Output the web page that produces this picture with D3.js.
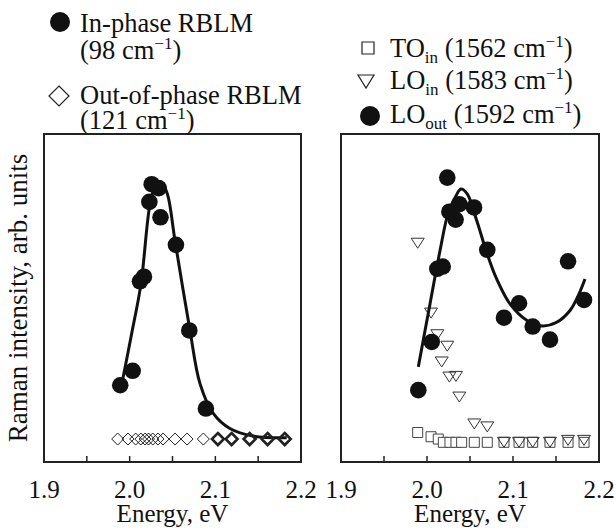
<!DOCTYPE html>
<html>
<head>
<meta charset="utf-8">
<script src="https://cdn.jsdelivr.net/npm/d3@7"></script>
<style>
  body { margin: 0; background: #fff; }
  text { font-family: "Liberation Serif", "Times New Roman", serif; fill: #111; }
</style>
</head>
<body>
<svg id="chart" width="616" height="528"></svg>
<script>
// ---- data (energy in eV, intensity in arb. units 0..100) ----
// left panel: in-phase RBLM (98 cm-1)
const inPhaseE = [1.989, 2.0035, 2.012, 2.0167, 2.023, 2.0257, 2.0339, 2.036, 2.054, 2.0696, 2.089];
const inPhaseI = [23.4, 27.8, 55.1, 56.5, 79.3, 84.7, 83.5, 74.6, 66.2, 40.1, 16.3];
// left panel fit
const inFitE = [1.9918, 2.0023, 2.0132, 2.0237, 2.0296, 2.0374, 2.044, 2.0529, 2.0704, 2.0821, 2.0976, 2.117, 2.1443, 2.1833];
const inFitI = [25.1, 39.1, 54.3, 78.6, 83.7, 84.9, 81.7, 67.5, 40.1, 23.9, 14.8, 10.2, 7.9, 7.4];
// left panel: out-of-phase RBLM (121 cm-1)
const outPhaseE = [1.986, 1.998, 2.007, 2.013, 2.018, 2.022, 2.027, 2.033, 2.039, 2.053, 2.067, 2.086, 2.103, 2.119, 2.14, 2.161, 2.181];
const outPhaseI = [7, 7, 7, 7, 7, 7, 7, 7, 7, 7, 7, 7, 7, 7, 7, 7, 7];

// right panel: LO_out (1592 cm-1)
const loOutE = [1.9899, 2.0055, 2.012, 2.0183, 2.0236, 2.026, 2.0333, 2.0376, 2.0547, 2.0701, 2.0895, 2.107, 2.1229, 2.143, 2.164, 2.1826];
const loOutI = [21.9, 36.6, 58.9, 59.6, 86.7, 76.3, 73.9, 78.6, 77.6, 64.7, 44.0, 48.4, 41.3, 37.3, 61.2, 49.4];
// right panel fit
const loFitE = [1.9899, 2.0035, 2.0151, 2.0248, 2.0326, 2.0395, 2.0469, 2.0578, 2.0694, 2.081, 2.0965, 2.1159, 2.1334, 2.1508, 2.1663, 2.176, 2.1837];
const loFitI = [29.0, 48.2, 64.4, 76.1, 80.6, 83.2, 81.7, 73.6, 63.9, 55.8, 48.2, 43.2, 41.5, 42.6, 46.2, 50.8, 55.8];
// right panel: LO_in (1583 cm-1)
const loInE = [1.9892, 2.0047, 2.012, 2.0171, 2.0236, 2.026, 2.0337, 2.0376, 2.055, 2.0701, 2.0895, 2.107, 2.1229, 2.143, 2.164, 2.1826];
const loInI = [66.7, 45.4, 38.8, 30.5, 35.3, 25.9, 26.1, 19.8, 11.6, 10.7, 6.0, 6.0, 6.0, 6.0, 6.6, 6.6];
// right panel: TO_in (1562 cm-1)
const toInE = [1.9892, 2.0047, 2.0131, 2.019, 2.0267, 2.0337, 2.0403, 2.055, 2.0701, 2.0895, 2.107, 2.1229, 2.143, 2.164, 2.1826];
const toInI = [9.0, 7.7, 7.0, 6.0, 6.0, 6.0, 6.0, 6.0, 6.0, 6.0, 6.0, 6.0, 6.0, 6.0, 6.0];

const tickMarks = [1.95, 2.0, 2.05, 2.1, 2.15];
const tickLabels = [1.9, 2.0, 2.1, 2.2];

// ---- layout ----
const svg = d3.select("#chart");
const yTop = 134, yBot = 462;
const y = d3.scaleLinear().domain([0, 100]).range([yBot, yTop]);
const xL = d3.scaleLinear().domain([1.9, 2.2]).range([44, 301]);
const xR = d3.scaleLinear().domain([1.9, 2.2]).range([341, 599]);
const fs = 25;

const zip = (a, b) => a.map((d, i) => [d, b[i]]);

function frame(x) {
  const g = svg.append("g");
  const [x0, x1] = x.range();
  g.append("rect")
    .attr("x", x0).attr("y", yTop)
    .attr("width", x1 - x0).attr("height", yBot - yTop)
    .attr("fill", "none").attr("stroke", "#222").attr("stroke-width", 2);
  g.selectAll("line.tk").data(tickMarks).enter().append("line")
    .attr("x1", d => x(d)).attr("x2", d => x(d))
    .attr("y1", yBot).attr("y2", yBot - 6)
    .attr("stroke", "#222").attr("stroke-width", 1.5);
  g.selectAll("text.tl").data(tickLabels).enter().append("text")
    .attr("x", d => x(d)).attr("y", 498)
    .attr("text-anchor", "middle").attr("font-size", fs)
    .text(d => d.toFixed(1));
  g.append("text")
    .attr("x", (x0 + x1) / 2).attr("y", 522)
    .attr("text-anchor", "middle").attr("font-size", fs)
    .text("Energy, eV");
}
frame(xL);
frame(xR);

// y label
svg.append("text")
  .attr("transform", `translate(27,${(yTop + yBot) / 2}) rotate(-90)`)
  .attr("text-anchor", "middle").attr("font-size", 27)
  .text("Raman intensity, arb. units");

const line = d3.line().curve(d3.curveCatmullRom.alpha(0.5));

// marker shapes
const diamond = "M0,-6L6,0L0,6L-6,0Z";
const tri = "M-6.5,-5L6.5,-5L0,5Z";
const sq = "M-5,-5H5V5H-5Z";

// ---- left panel ----
svg.append("path")
  .datum(zip(inFitE, inFitI).map(d => [xL(d[0]), y(d[1])]))
  .attr("d", line).attr("fill", "none").attr("stroke", "#111").attr("stroke-width", 3);

svg.append("g").selectAll("path").data(zip(outPhaseE, outPhaseI)).enter().append("path")
  .attr("d", diamond)
  .attr("transform", d => `translate(${xL(d[0])},${y(d[1])})`)
  .attr("fill", "none").attr("stroke", "#222")
  .attr("stroke-width", d => d[0] > 2.095 ? 2.6 : 1);

svg.append("g").selectAll("circle").data(zip(inPhaseE, inPhaseI)).enter().append("circle")
  .attr("cx", d => xL(d[0])).attr("cy", d => y(d[1])).attr("r", 8.3)
  .attr("fill", "#111");

// ---- right panel ----
svg.append("g").selectAll("path").data(zip(toInE, toInI)).enter().append("path")
  .attr("d", sq)
  .attr("transform", d => `translate(${xR(d[0])},${y(d[1])})`)
  .attr("fill", "#fff").attr("stroke", "#444").attr("stroke-width", 1);

svg.append("g").selectAll("path").data(zip(loInE, loInI)).enter().append("path")
  .attr("d", tri)
  .attr("transform", d => `translate(${xR(d[0])},${y(d[1])})`)
  .attr("fill", "none").attr("stroke", "#333").attr("stroke-width", 1);

svg.append("path")
  .datum(zip(loFitE, loFitI).map(d => [xR(d[0]), y(d[1])]))
  .attr("d", line).attr("fill", "none").attr("stroke", "#111").attr("stroke-width", 3);

svg.append("g").selectAll("circle").data(zip(loOutE, loOutI)).enter().append("circle")
  .attr("cx", d => xR(d[0])).attr("cy", d => y(d[1])).attr("r", 8.3)
  .attr("fill", "#111");

// ---- legends ----
function legText(x, yy, parts) {
  const t = svg.append("text").attr("x", x).attr("y", yy).attr("font-size", 26.5);
  parts.forEach(p => {
    if (p.sup) t.append("tspan").attr("font-size", 17).attr("dy", -10).text(p.sup);
    else if (p.sub) t.append("tspan").attr("font-size", 17).attr("dy", 6).text(p.sub);
    else t.append("tspan").attr("dy", p.reset || 0).text(p.t);
  });
}

svg.append("circle").attr("cx", 60).attr("cy", 22).attr("r", 10).attr("fill", "#111");
legText(80, 32, [{t: "In-phase RBLM"}]);
legText(80, 59, [{t: "(98 cm"}, {sup: "−1"}, {t: ")", reset: 10}]);
svg.append("path").attr("d", "M0,-10L10,0L0,10L-10,0Z").attr("transform", "translate(59,96)")
  .attr("fill", "#fff").attr("stroke", "#222").attr("stroke-width", 1.2);
legText(80, 104, [{t: "Out-of-phase RBLM"}]);
legText(80, 129, [{t: "(121 cm"}, {sup: "−1"}, {t: ")", reset: 10}]);

svg.append("path").attr("d", "M-6,-6H6V6H-6Z").attr("transform", "translate(368,48)")
  .attr("fill", "#fff").attr("stroke", "#222").attr("stroke-width", 1.2);
legText(390, 57, [{t: "TO"}, {sub: "in"}, {t: " (1562 cm", reset: -6}, {sup: "−1"}, {t: ")", reset: 10}]);
svg.append("path").attr("d", "M-8,-6L8,-6L0,7Z").attr("transform", "translate(366,81)")
  .attr("fill", "none").attr("stroke", "#222").attr("stroke-width", 1.2);
legText(390, 89, [{t: "LO"}, {sub: "in"}, {t: " (1583 cm", reset: -6}, {sup: "−1"}, {t: ")", reset: 10}]);
svg.append("circle").attr("cx", 370).attr("cy", 116).attr("r", 10).attr("fill", "#111");
legText(390, 123, [{t: "LO"}, {sub: "out"}, {t: " (1592 cm", reset: -6}, {sup: "−1"}, {t: ")", reset: 10}]);
</script>
</body>
</html>
